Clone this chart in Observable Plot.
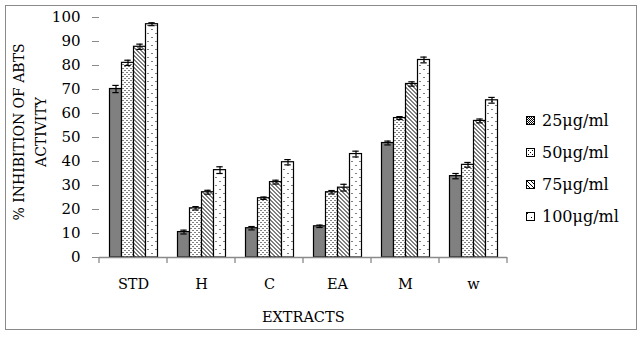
<!DOCTYPE html>
<html><head><meta charset="utf-8">
<script src="https://cdn.jsdelivr.net/npm/d3@7"></script>
<script src="https://cdn.jsdelivr.net/npm/@observablehq/plot@0.6"></script>
<style>
html,body{margin:0;padding:0;background:#fff;}
#wrap{position:relative;width:644px;height:337px;overflow:hidden;}
#border{position:absolute;left:5px;top:5px;width:630px;height:323px;border:1.5px solid #8a8a8a;pointer-events:none;}
#legend{position:absolute;left:526px;top:104px;font-family:"DejaVu Serif";font-size:16px;color:#000;}
.item{display:flex;align-items:center;height:32px;}
.item svg{margin-right:7px;}
</style></head><body>
<div id="wrap"><div id="chart"></div><div id="border"></div><div id="legend"></div></div>
<script>
const categories = ["STD", "H", "C", "EA", "M", "w"];
const doses = ["25μg/ml", "50μg/ml", "75μg/ml", "100μg/ml"];
const v25  = [70.2, 10.6, 12.2, 13.0, 47.7, 33.9];
const v50  = [81.1, 20.5, 24.7, 27.2, 58.1, 38.6];
const v75  = [87.8, 27.2, 31.4, 29.1, 72.3, 56.9];
const v100 = [97.2, 36.4, 39.7, 43.1, 82.3, 65.5];
const e25  = [1.5, 0.8, 0.7, 0.5, 0.8, 1.1];
const e50  = [1.1, 0.7, 0.5, 0.7, 0.6, 1.0];
const e75  = [1.1, 0.8, 0.8, 1.4, 0.9, 0.8];
const e100 = [0.6, 1.4, 1.1, 1.2, 1.2, 1.2];
const yTicks = [0, 10, 20, 30, 40, 50, 60, 70, 80, 90, 100];
const yTitle = ["% INHIBITION OF ABTS", "ACTIVITY"];
const xTitle = "EXTRACTS";

const values = [v25, v50, v75, v100];
const errors = [e25, e50, e75, e100];
const patternIds = ["p25", "p50", "p75", "p100"];
const patternUrls = patternIds.map(id => `url(#${id})`);

const data = [];
categories.forEach((c, i) => doses.forEach((d, j) =>
  data.push({category: c, dose: d, value: values[j][i], err: errors[j][i]})));

const chart = Plot.plot({
  width: 644, height: 337,
  marginLeft: 96.5, marginRight: 134, marginTop: 17, marginBottom: 80,
  style: {fontFamily: "DejaVu Serif", fontSize: "15px", color: "black", background: "white", overflow: "visible"},
  fx: {domain: categories, padding: 0, label: null},
  x: {domain: doses, paddingInner: 0, paddingOuter: 0.76, axis: null},
  y: {domain: [0, 100], label: null},
  color: {domain: doses, range: patternUrls},
  marks: [
    Plot.barY(data, {fx: "category", x: "dose", y: "value", fill: "dose", stroke: "black", strokeWidth: 1.2}),
    Plot.ruleX(data, {fx: "category", x: "dose", y1: d => d.value - d.err, y2: d => d.value + d.err, stroke: "black", strokeWidth: 1.2}),
    Plot.tickY(data, {fx: "category", x: "dose", y: d => d.value + d.err, insetLeft: 2.8, insetRight: 2.8, stroke: "black", strokeWidth: 1.2}),
    Plot.tickY(data, {fx: "category", x: "dose", y: d => d.value - d.err, insetLeft: 2.8, insetRight: 2.8, stroke: "black", strokeWidth: 1.2}),
    Plot.ruleY([0], {stroke: "#8a8a8a", strokeWidth: 1.3}),
    Plot.axisY({ticks: yTicks, tickSize: 7, tickPadding: 12, stroke: "#8a8a8a", fill: "black", line: true, label: null, fontSize: 15}),
    Plot.axisFx({anchor: "bottom", tickSize: 0, tickPadding: 21.5, label: null, fontSize: 14.5})
  ]
});
document.getElementById("chart").appendChild(chart);

const svg = d3.select(chart);
const defs = svg.insert("defs", ":first-child");
// 25: dense dark checker
const p1 = defs.append("pattern").attr("id", "p25").attr("patternUnits", "userSpaceOnUse").attr("width", 2).attr("height", 2);
p1.append("rect").attr("width", 2).attr("height", 2).attr("fill", "#fff");
p1.append("rect").attr("width", 1).attr("height", 1).attr("fill", "#000");
p1.append("rect").attr("x", 1).attr("y", 1).attr("width", 1).attr("height", 1).attr("fill", "#000");
// 50: small dots
const p2 = defs.append("pattern").attr("id", "p50").attr("patternUnits", "userSpaceOnUse").attr("width", 4).attr("height", 4);
p2.append("rect").attr("width", 4).attr("height", 4).attr("fill", "#fff");
p2.append("rect").attr("x", 0).attr("y", 0).attr("width", 1).attr("height", 1).attr("fill", "#000");
p2.append("rect").attr("x", 2).attr("y", 2).attr("width", 1).attr("height", 1).attr("fill", "#000");
// 75: diagonal lines
const p3 = defs.append("pattern").attr("id", "p75").attr("patternUnits", "userSpaceOnUse").attr("width", 4).attr("height", 4);
p3.append("rect").attr("width", 4).attr("height", 4).attr("fill", "#fff");
p3.append("path").attr("d", "M-1,-1L5,5M-1,3L1,5M3,-1L5,1").attr("stroke", "#000").attr("stroke-width", 1);
// 100: sparse dots
const p4 = defs.append("pattern").attr("id", "p100").attr("patternUnits", "userSpaceOnUse").attr("width", 8).attr("height", 8);
p4.append("rect").attr("width", 8).attr("height", 8).attr("fill", "#fff");
p4.append("rect").attr("x", 1).attr("y", 1).attr("width", 1).attr("height", 1).attr("fill", "#000");
p4.append("rect").attr("x", 5).attr("y", 5).attr("width", 1).attr("height", 1).attr("fill", "#000");

// category boundary ticks on the x axis
const fx = chart.scale("fx");
const y = chart.scale("y");
const y0 = y.apply(0);
const bounds = categories.map(c => fx.apply(c)).concat([fx.apply(categories[categories.length - 1]) + fx.bandwidth]);
svg.append("g").selectAll("line").data(bounds).join("line")
  .attr("x1", d => d).attr("x2", d => d).attr("y1", y0).attr("y2", y0 + 6)
  .attr("stroke", "#8a8a8a").attr("stroke-width", 1.3);

// axis titles
const xMid = (fx.range[0] + fx.range[1]) / 2;
svg.append("text").attr("x", xMid).attr("y", y0 + 60).attr("dy", "0.36em")
  .attr("text-anchor", "middle").attr("font-size", 14.5).attr("fill", "black").text(xTitle);
const yMid = (y.range[0] + y.range[1]) / 2 - 5;
[19, 41].forEach((cx, i) => {
  svg.append("text").attr("transform", `translate(${cx},${yMid}) rotate(-90)`)
    .attr("dy", "0.36em").attr("text-anchor", "middle").attr("font-size", 14)
    .attr("fill", "black").text(yTitle[i]);
});

// legend
const legend = d3.select("#legend");
doses.forEach((d, i) => {
  const it = legend.append("div").attr("class", "item");
  const s = it.append("svg").attr("width", 9).attr("height", 9);
  s.append("rect").attr("x", 0.5).attr("y", 0.5).attr("width", 8).attr("height", 8)
    .attr("fill", patternUrls[i]).attr("stroke", "black").attr("stroke-width", 1);
  it.append("span").text(d);
});
</script>
</body></html>
